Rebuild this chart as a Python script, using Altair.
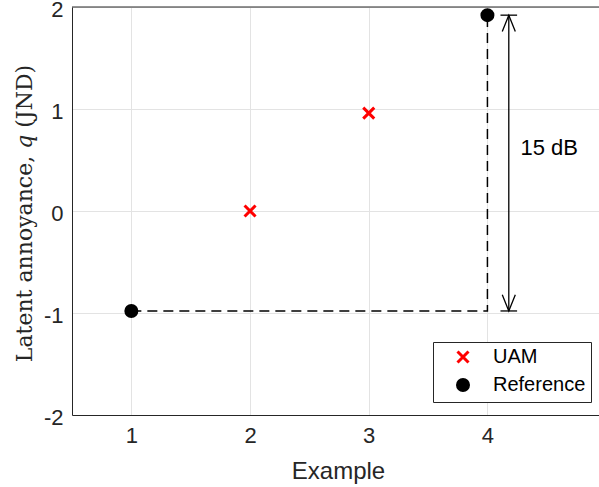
import altair as alt
import pandas as pd

# ---- data ----
series_names = ["UAM", "Reference"]
uam_x = [2, 3]
uam_y = [0.0, 0.96]
ref_x = [1, 4]
ref_y = [-0.98, 1.92]
x_ticks = [1, 2, 3, 4]
y_ticks = [-2, -1, 0, 1, 2]
arrow_x = 4.18
cap_half = 0.07
head_dx = 0.055
head_dy = 0.16
annot_text = "15 dB"
annot_x = 4.52
annot_y = 0.62

X_DOMAIN = [0.5, 4.94]
Y_DOMAIN = [-2, 2]
AX = "#262626"
FONT = "Liberation Sans"

pts = pd.DataFrame({
    "x": uam_x + ref_x,
    "y": uam_y + ref_y,
    "series": ["UAM"] * len(uam_x) + ["Reference"] * len(ref_x),
})

# dashed connector: reference 1 -> horizontal -> reference 2
dash = pd.DataFrame({
    "x": [ref_x[0], ref_x[1], ref_x[1]],
    "y": [ref_y[0], ref_y[0], ref_y[1]],
    "o": [0, 1, 2],
})

lo, hi = ref_y[0], ref_y[1]
arrow_rows = [
    (0, 0, arrow_x, lo), (0, 1, arrow_x, hi),
    (1, 0, arrow_x - cap_half, hi), (1, 1, arrow_x + cap_half, hi),
    (2, 0, arrow_x - cap_half, lo), (2, 1, arrow_x + cap_half, lo),
    (3, 0, arrow_x - head_dx, hi - head_dy), (3, 1, arrow_x, hi), (3, 2, arrow_x + head_dx, hi - head_dy),
    (4, 0, arrow_x - head_dx, lo + head_dy), (4, 1, arrow_x, lo), (4, 2, arrow_x + head_dx, lo + head_dy),
]
arrow = pd.DataFrame(arrow_rows, columns=["seg", "o", "x", "y"])

annot = pd.DataFrame({"x": [annot_x], "y": [annot_y], "t": [annot_text]})

xs = alt.Scale(domain=X_DOMAIN, nice=False, zero=False)
ys = alt.Scale(domain=Y_DOMAIN, nice=False, zero=False)

minus_expr = "datum.value < 0 ? '-' + abs(datum.value) : '' + datum.value"

x_axis = alt.Axis(values=x_ticks, title="Example", grid=True, labelExpr=minus_expr,
                  labelPadding=10,
                  titleX=266, titleY=63, titleBaseline="alphabetic", titleAnchor="start", titleAlign="center",
                  titleFontSize=24)
y_axis = alt.Axis(values=y_ticks, title="Latent annoyance, 𝑞 (JND)", grid=True, labelExpr=minus_expr,
                  labelPadding=9, labelOffset=2,
                  titleX=-48, titleY=206, titleBaseline="middle", titleAnchor="start", titleAlign="center",
                  titleFont="DejaVu Serif", titleFontSize=22)

base_x = alt.X("x:Q", scale=xs, axis=x_axis)
base_y = alt.Y("y:Q", scale=ys, axis=y_axis)

top_line = alt.Chart(pd.DataFrame({"y": [Y_DOMAIN[1]]})).mark_rule(color=AX, strokeWidth=1).encode(
    y=alt.Y("y:Q", scale=ys)
)

dash_layer = alt.Chart(dash).mark_line(color="black", strokeDash=[10, 6], strokeWidth=1.5).encode(
    x=base_x, y=base_y, order="o:Q"
)

arrow_layer = alt.Chart(arrow).mark_line(color="black", strokeWidth=1.3).encode(
    x=alt.X("x:Q", scale=xs), y=alt.Y("y:Q", scale=ys), detail="seg:N", order="o:Q"
)

text_layer = alt.Chart(annot).mark_text(font=FONT, fontSize=22, color="black", align="center", baseline="middle").encode(
    x=alt.X("x:Q", scale=xs), y=alt.Y("y:Q", scale=ys), text="t:N"
)

x_path = "M-1,-1L1,1M-1,1L1,-1"
legend = alt.Legend(title=None, orient="none", legendX=361, legendY=335,
                    strokeColor=AX, fillColor="white", padding=5,
                    labelFont=FONT, labelFontSize=20, labelColor="black",
                    symbolSize=121, symbolStrokeWidth=3, rowPadding=4,
                    symbolOffset=15, labelOffset=20)
point_layer = alt.Chart(pts).mark_point(filled=True, size=121, strokeWidth=3, opacity=1).encode(
    x=alt.X("x:Q", scale=xs), y=alt.Y("y:Q", scale=ys),
    shape=alt.Shape("series:N", scale=alt.Scale(domain=series_names, range=[x_path, "circle"]), legend=legend),
    fill=alt.Fill("series:N", scale=alt.Scale(domain=series_names, range=["#ff0000", "black"]), legend=legend),
    stroke=alt.Stroke("series:N", scale=alt.Scale(domain=series_names, range=["#ff0000", "black"]), legend=legend),
)

chart = alt.layer(top_line, dash_layer, arrow_layer, text_layer, point_layer).properties(
    width=527, height=408,
    autosize=alt.AutoSizeParams(type="none"),
    padding={"left": 72, "top": 7, "right": 0, "bottom": 72},
    background="white",
).configure_view(stroke=None).configure_axis(
    domainColor=AX, tickColor=AX, tickSize=0, gridColor="#e3e3e3",
    labelFont=FONT, labelFontSize=22, labelColor=AX,
    titleFont=FONT, titleColor=AX, titleFontWeight="normal",
)

chart.save("out.html", embed_options={"renderer": "svg", "actions": False})
